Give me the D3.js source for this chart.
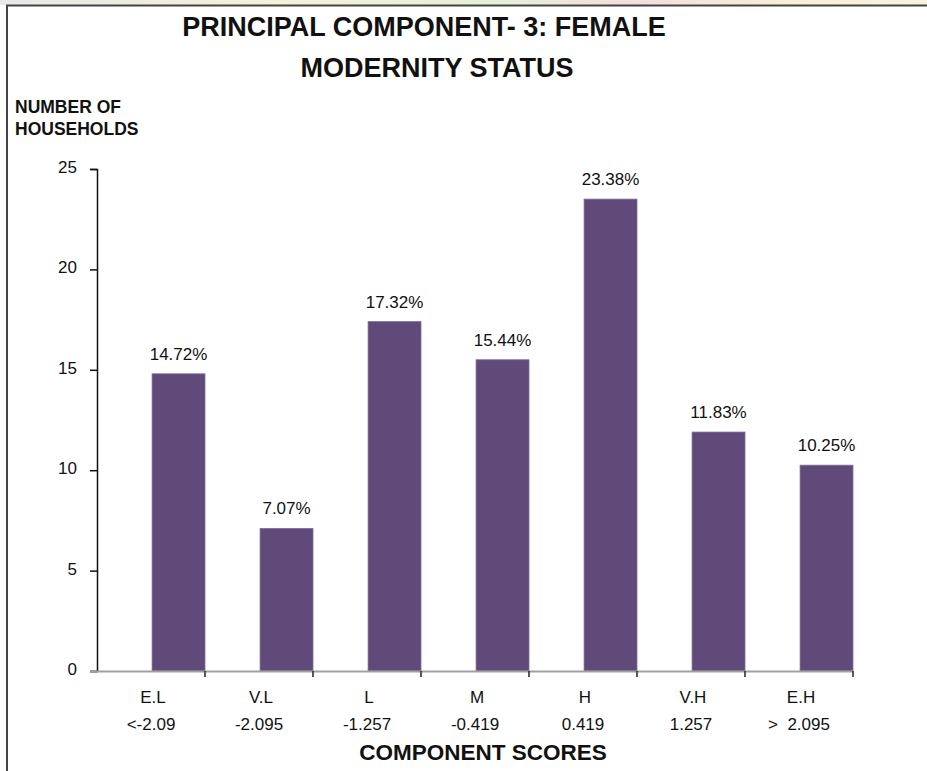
<!DOCTYPE html>
<html>
<head>
<meta charset="utf-8">
<script src="https://cdn.jsdelivr.net/npm/d3@7/dist/d3.min.js"></script>
<style>
  html, body { margin: 0; padding: 0; background: #fff; }
  svg { display: block; }
  text { font-family: "Liberation Sans", Arial, sans-serif; fill: #111; }
</style>
</head>
<body>
<svg id="chart" width="927" height="771"></svg>
<script>
const categories = ["E.L", "V.L", "L", "M", "H", "V.H", "E.H"];
const scoreLabels = ["<-2.09", "-2.095", "-1.257", "-0.419", "0.419", "1.257", ">  2.095"];
const households = [14.8, 7.1, 17.4, 15.5, 23.5, 11.9, 10.25];
const percentLabels = ["14.72%", "7.07%", "17.32%", "15.44%", "23.38%", "11.83%", "10.25%"];
const yTicks = [0, 5, 10, 15, 20, 25];

const svg = d3.select("#chart");

// faint strip and frame
const strip = svg.append("defs").append("linearGradient").attr("id", "strip");
[["0%", "#e8e8e8"], ["30%", "#f4f2d8"], ["55%", "#e6efd8"], ["68%", "#f6dede"], ["85%", "#f5f0d6"], ["100%", "#f8f4dc"]]
  .forEach(([o, c]) => strip.append("stop").attr("offset", o).attr("stop-color", c));
svg.append("rect").attr("x", 0).attr("y", 0).attr("width", 927).attr("height", 5).attr("fill", "url(#strip)");
svg.append("line").attr("x1", 6).attr("x2", 927).attr("y1", 5.5).attr("y2", 5.5).attr("stroke", "#444").attr("stroke-width", 2);
svg.append("line").attr("x1", 7).attr("x2", 7).attr("y1", 5).attr("y2", 771).attr("stroke", "#444").attr("stroke-width", 2);

const x = d3.scaleBand().domain(categories).range([97, 853]).paddingInner(0).paddingOuter(0);
const y = d3.scaleLinear().domain([0, 25]).range([671, 169]);
const bw = x.bandwidth();

// title
svg.append("text").attr("x", 424).attr("y", 36).attr("text-anchor", "middle")
  .style("font-size", "27px").style("font-weight", "bold").text("PRINCIPAL COMPONENT- 3: FEMALE");
svg.append("text").attr("x", 437).attr("y", 77).attr("text-anchor", "middle")
  .style("font-size", "27px").style("font-weight", "bold").text("MODERNITY STATUS");

// y title
svg.append("text").attr("x", 15).attr("y", 113).style("font-size", "17.5px").style("font-weight", "bold").text("NUMBER OF");
svg.append("text").attr("x", 15).attr("y", 135).style("font-size", "17.5px").style("font-weight", "bold").text("HOUSEHOLDS");

// y axis
const yAxis = svg.append("g").attr("transform", "translate(97,0)")
  .call(d3.axisLeft(y).tickValues(yTicks).tickSize(7).tickSizeOuter(7).tickPadding(13));
yAxis.selectAll("path, line").attr("stroke", "#111").attr("stroke-width", 1.5);
yAxis.selectAll("text").style("font-size", "17px").attr("fill", "#222").attr("dy", "0.2em");

// bars
svg.append("g").selectAll("rect").data(categories).join("rect")
  .attr("x", d => x(d) + bw * 0.51)
  .attr("width", bw * 0.49)
  .attr("y", (d, i) => y(households[i]))
  .attr("height", (d, i) => y(0) - y(households[i]))
  .attr("fill", "#5f4a7a")
  .attr("stroke", "#7e6e98").attr("stroke-width", 0.8);

// value labels
svg.append("g").selectAll("text").data(categories).join("text")
  .attr("x", d => x(d) + bw * 0.755)
  .attr("y", (d, i) => y(households[i]) - 14)
  .attr("text-anchor", "middle")
  .style("font-size", "17px").attr("fill", "#222")
  .text((d, i) => percentLabels[i]);

// baseline + category ticks
svg.append("line").attr("x1", 90).attr("x2", 853).attr("y1", y(0) + 0.5).attr("y2", y(0) + 0.5)
  .attr("stroke", "#a0a0a0").attr("stroke-width", 2);
svg.append("g").selectAll("line").data(categories).join("line")
  .attr("x1", d => x(d) + bw).attr("x2", d => x(d) + bw)
  .attr("y1", y(0)).attr("y2", y(0) + 6)
  .attr("stroke", "#222").attr("stroke-width", 1.5);

// category labels via band axis
const xAxis = svg.append("g").attr("transform", `translate(2,${y(0)})`)
  .call(d3.axisBottom(x).tickSize(0).tickPadding(0));
xAxis.select(".domain").remove();
xAxis.selectAll("text").attr("y", 32).attr("dy", 0).style("font-size", "17px").attr("fill", "#222");

svg.append("g").selectAll("text").data(categories).join("text")
  .attr("x", d => x(d) + bw / 2)
  .attr("y", 730)
  .attr("text-anchor", "middle")
  .style("font-size", "17px").style("white-space", "pre").attr("fill", "#222")
  .text((d, i) => scoreLabels[i]);

// x title
svg.append("text").attr("x", 483).attr("y", 760).attr("text-anchor", "middle")
  .style("font-size", "22.5px").style("font-weight", "bold").text("COMPONENT SCORES");
</script>
</body>
</html>
